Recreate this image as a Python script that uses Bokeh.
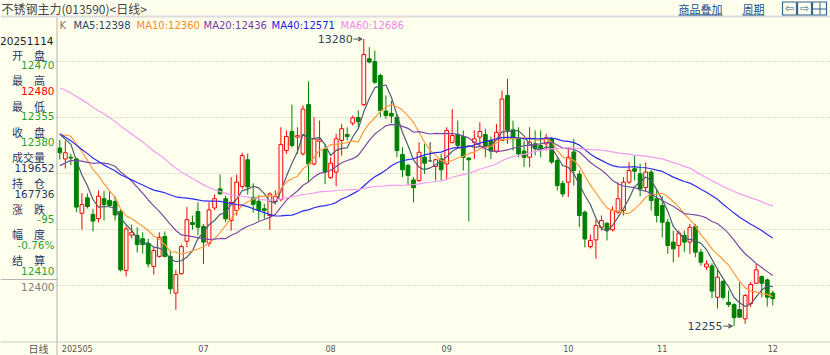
import numpy as np
from bokeh.plotting import figure
from bokeh.models import Range1d, Label, BoxAnnotation, Grid, FixedTicker, Arrow, VeeHead
from bokeh.embed import file_html
from bokeh.resources import INLINE

# ---------------- data ----------------
opens = [12891, 12852, 12858, 12852, 12658, 12713, 12654, 12639, 12710, 12704,
         12700, 12664, 12454, 12580, 12579, 12567, 12551, 12468, 12504, 12575,
         12504, 12373, 12442, 12558, 12625, 12664, 12611, 12551, 12677, 12745,
         12710, 12632, 12668, 12754, 12849, 12715, 12701, 12674, 12650, 12700,
         12707, 12882, 12950, 12930, 12870, 13046, 12834, 12915, 12886, 12785,
         12805, 12918, 12939, 12980, 13000, 13046, 13210, 13200, 13150, 13023,
         13015, 13001, 12868, 12829, 12777, 12775, 12858, 12845, 12825, 12852,
         12834, 12911, 12939, 12932, 12855, 12911, 12930, 12939, 12918, 12880,
         12918, 13079, 12956, 12924, 12880, 12858, 12906, 12900, 12906, 12924,
         12846, 12765, 12769, 12877, 12798, 12662, 12539, 12563, 12608, 12622,
         12599, 12662, 12668, 12769, 12817, 12799, 12750, 12805, 12710, 12686,
         12626, 12555, 12543, 12579, 12555, 12611, 12519, 12466, 12470, 12358,
         12414, 12340, 12332, 12314, 12281, 12335, 12408, 12432, 12420, 12373]
highs = [12920, 12918, 12871, 12856, 12730, 12729, 12674, 12739, 12738, 12739,
         12718, 12671, 12611, 12618, 12608, 12590, 12567, 12537, 12590, 12593,
         12525, 12456, 12546, 12680, 12650, 12697, 12620, 12697, 12725, 12796,
         12721, 12787, 12796, 12874, 12871, 12765, 12723, 12692, 12733, 12740,
         12965, 12954, 13046, 12965, 13043, 13129, 13001, 12989, 12906, 12858,
         12942, 12977, 12965, 13007, 13025, 13280, 13251, 13239, 13156, 13079,
         13060, 13013, 12894, 12835, 12787, 12912, 12906, 12912, 12853, 12870,
         12965, 13030, 12989, 12954, 12858, 12954, 12983, 12960, 12932, 12977,
         13096, 13138, 12989, 12965, 12918, 12965, 12954, 12954, 12942, 12930,
         12858, 12775, 12894, 12924, 12811, 12668, 12582, 12635, 12650, 12626,
         12682, 12769, 12787, 12840, 12864, 12835, 12840, 12813, 12740, 12718,
         12638, 12596, 12596, 12596, 12620, 12620, 12531, 12490, 12480, 12461,
         12420, 12382, 12337, 12412, 12370, 12412, 12477, 12436, 12425, 12382]
lows = [12850, 12818, 12829, 12662, 12599, 12675, 12593, 12626, 12632, 12680,
        12632, 12450, 12432, 12568, 12518, 12514, 12465, 12439, 12500, 12500,
        12370, 12313, 12439, 12537, 12600, 12579, 12477, 12539, 12670, 12725,
        12626, 12596, 12650, 12745, 12725, 12660, 12632, 12638, 12599, 12690,
        12700, 12870, 12893, 12870, 12864, 12770, 12829, 12858, 12763, 12781,
        12754, 12864, 12918, 12971, 12961, 13040, 13193, 13120, 13001, 12995,
        12980, 12858, 12787, 12757, 12697, 12769, 12798, 12841, 12775, 12775,
        12777, 12907, 12893, 12811, 12629, 12852, 12900, 12858, 12852, 12873,
        12916, 12906, 12882, 12858, 12823, 12823, 12864, 12858, 12882, 12834,
        12739, 12716, 12716, 12757, 12608, 12536, 12532, 12495, 12596, 12561,
        12593, 12656, 12650, 12763, 12775, 12718, 12734, 12668, 12625, 12572,
        12513, 12483, 12501, 12520, 12513, 12501, 12471, 12455, 12355, 12318,
        12350, 12323, 12255, 12285, 12263, 12323, 12406, 12358, 12325, 12329]
closes = [12874, 12874, 12855, 12680, 12689, 12682, 12630, 12719, 12689, 12686,
          12652, 12456, 12602, 12590, 12546, 12546, 12477, 12525, 12572, 12504,
          12388, 12439, 12539, 12635, 12618, 12608, 12555, 12670, 12710, 12727,
          12638, 12697, 12769, 12864, 12752, 12690, 12668, 12668, 12727, 12718,
          12904, 12932, 12900, 12935, 13030, 12834, 12924, 12922, 12805, 12837,
          12924, 12960, 12932, 12999, 12985, 13225, 13198, 13126, 13025, 13007,
          13005, 12882, 12813, 12793, 12749, 12876, 12837, 12845, 12849, 12813,
          12954, 12936, 12900, 12858, 12849, 12924, 12950, 12900, 12880, 12947,
          13066, 12954, 12924, 12870, 12858, 12912, 12888, 12890, 12927, 12841,
          12757, 12727, 12858, 12811, 12650, 12566, 12561, 12614, 12632, 12596,
          12668, 12710, 12769, 12811, 12808, 12745, 12805, 12704, 12650, 12626,
          12543, 12531, 12587, 12555, 12608, 12519, 12483, 12477, 12380, 12430,
          12358, 12332, 12285, 12287, 12364, 12404, 12456, 12408, 12358, 12353]
# closes before the first visible bar (only used for the moving averages)
prior_closes = [13380, 13420, 13450, 13400, 13430, 13470, 13440, 13410, 13460, 13480,
                13450, 13420, 13440, 13410, 13430, 13460, 13440, 13400, 13420, 13430,
                13380, 13350, 13320, 13300, 13280, 13250, 13230, 13200,
                13100, 13050, 13010, 12980, 12950, 12920, 12900, 12880, 12860,
                12750, 12700, 12720,
                12690, 12660, 12700, 12730, 12760, 12700, 12680, 12720, 12760, 12800,
                12860, 12900, 12950, 12970, 12985,
                12960, 12940, 12975, 12946]

month_labels = ["202505", "07", "08", "09", "10", "11", "12"]
month_start_idx = [0, 26, 49, 70, 92, 109, 129]
grid_prices = [12400, 12600, 12800, 13000, 13200]
axis_label_price = 12400

ma_periods = [5, 10, 20, 40, 60]
ma_legend_values = [12398, 12360, 12436, 12571, 12686]
ma_colors = ["#4A5E72", "#FF9A3C", "#7B4BA6", "#2B2BEE", "#F29CF2"]
ma_text_colors = ["#2C4366", "#FF8C1A", "#6B3FA0", "#2222DD", "#EE88EE"]

info_date = "20251114"
info_names = ["开　盘", "最　高", "最　低", "收　盘", "成交量", "持　仓", "涨　跌", "幅　度", "结　算"]
info_values = ["12470", "12480", "12355", "12380", "119652", "167736", "-95", "-0.76%", "12410"]
info_kinds = ["dn", "up", "dn", "dn", "n", "n", "dn", "dn", "dn"]

title_text = "不锈钢主力(013590)<日线>"

# ---------------- layout constants ----------------
W, H = 830, 355
BG = "#FFFFEE"
RED = "#FF0000"
GREEN = "#008000"
NAVY = "#1E3A66"
X0_PX, STEP_PX = 59.3, 5.527          # centre of first bar, bar spacing
PX_PER_200 = 56.0
Y_REF_PX = 285.0                       # pixel row of 12400 gridline

x_start = -X0_PX / STEP_PX
x_end = (W - X0_PX) / STEP_PX
y_end = axis_label_price + Y_REF_PX * 200 / PX_PER_200
y_start = axis_label_price - (H - Y_REF_PX) * 200 / PX_PER_200

p = figure(width=W, height=H, x_range=Range1d(x_start, x_end), y_range=Range1d(y_start, y_end),
           output_backend="svg", toolbar_location=None, title=None,
           x_axis_type=None, y_axis_type=None, min_border=0)
p.outline_line_color = None
p.background_fill_color = BG
p.border_fill_color = BG

p.add_layout(Grid(dimension=1, ticker=FixedTicker(ticks=grid_prices),
                  grid_line_color="#B8B8B8", grid_line_dash="1 2", grid_line_width=1))

o = np.array(opens, float); h = np.array(highs, float)
l = np.array(lows, float); c = np.array(closes, float)
n = len(c)
idx = np.arange(n)
up = c > o
dn = c < o
fl = c == o
BW = 0.68

# wicks
p.segment(x0=idx[up], y0=l[up], x1=idx[up], y1=h[up], line_color=RED, line_width=1)
p.segment(x0=idx[dn], y0=l[dn], x1=idx[dn], y1=h[dn], line_color=GREEN, line_width=1)
p.segment(x0=idx[fl], y0=l[fl], x1=idx[fl], y1=h[fl], line_color="#333333", line_width=1)
# bodies
p.vbar(x=idx[up], width=BW, top=c[up], bottom=o[up], fill_color=BG, line_color=RED, line_width=1)
p.vbar(x=idx[dn], width=BW, top=o[dn], bottom=c[dn], fill_color=GREEN, line_color=GREEN, line_width=1)
p.segment(x0=idx[fl] - BW / 2, y0=o[fl], x1=idx[fl] + BW / 2, y1=o[fl], line_color="#333333", line_width=1)

# moving averages
full = np.array(prior_closes + closes, float)
for per, col in zip(ma_periods, ma_colors):
    ma = np.convolve(full, np.ones(per) / per, mode="valid")[-n:]
    p.line(idx, ma, line_color=col, line_width=1.2)

# high / low markers
imax = int(np.argmax(h)); imin = int(np.argmin(l))
for i_, val, lab_off in [(imax, h[imax], -2.0), (imin, l[imin], -2.1)]:
    p.add_layout(Arrow(end=VeeHead(size=4, line_color="#555555", fill_color="#555555", line_width=1),
                       x_start=i_ + lab_off + 0.15, y_start=val, x_end=i_ - 0.3, y_end=val,
                       line_color="#555555", line_width=1))
    p.add_layout(Label(x=i_ + lab_off, y=val, text="%d" % val, text_align="right", text_baseline="middle",
                       text_font="DejaVu Sans", text_font_size="11px", text_color="#2C4366"))


def sy(py):
    return H - py


def box(l_, r_, t_, b_, fill=None, line=None, lw=1):
    p.add_layout(BoxAnnotation(left=l_, right=r_, top=sy(t_), bottom=sy(b_),
                               left_units="screen", right_units="screen",
                               top_units="screen", bottom_units="screen",
                               fill_color=fill, fill_alpha=1 if fill else 0,
                               line_color=line, line_alpha=1 if line else 0, line_width=lw))


def txt(s, x, y, color=NAVY, size="11px", font="DejaVu Sans", align="left", **kw):
    p.add_layout(Label(x=x, y=sy(y), x_units="screen", y_units="screen", text=s,
                       text_align=align, text_baseline="middle", text_color=color,
                       text_font=font, text_font_size=size, **kw))


# left panel cover + borders
box(0, 56.5, 17, H, fill=BG)
box(0, W, 15, 17, fill="#DCDCDC")           # title separator
box(56, 57, 17, H, fill="#B4B4B4")           # panel right border
box(0, 57, 278.5, 279.5, fill="#B4B4B4")     # panel bottom border
box(0, W, 341, 342, fill="#C8C8C8")          # date row separator

# title bar
txt(title_text, 1, 8, color="#444444", size="12px", font="Noto Sans CJK SC")
txt("商品叠加", 678, 8, color="#1F4E8C", size="11px", font="Noto Sans CJK SC")
box(678, 722, 14, 15, fill="#1F4E8C")
txt("周期", 742, 8, color="#1F4E8C", size="11px", font="Noto Sans CJK SC")
box(742, 764, 14, 15, fill="#1F4E8C")
for bx, sym in [(782, "⇦"), (797, "⇨"), (812, "")]:
    box(bx, bx + 14, 1.5, 14.5, line="#31658F", lw=1.2)
    if sym:
        txt(sym, bx + 7, 8, color="#31658F", size="11px", align="center")
box(819, 820, 2, 14, fill="#31658F")
box(812, 826, 8, 9, fill="#31658F")

# MA legend row
txt("K", 59, 25, color="#777777", size="10px")
legend_x = [73, 136, 203, 271, 340]
for per, val, col, lx in zip(ma_periods, ma_legend_values, ma_text_colors, legend_x):
    txt("MA%d:%d" % (per, val), lx, 25, color=col, size="10px")

# info panel
txt(info_date, 53, 40, color="#222222", size="10.5px", align="right")
kind_col = {"up": RED, "dn": "#2E9E2E", "n": NAVY}
for k, (nm, vv, kd) in enumerate(zip(info_names, info_values, info_kinds)):
    ylab = 54 + 25.7 * k
    txt(nm, 28, ylab, color=NAVY, size="11px", font="Noto Sans CJK SC", align="center")
    txt(vv, 54, ylab + 10.5, color=kind_col[kd], size="10.5px", align="right")

# price label under panel
txt("%d" % axis_label_price, 54, sy(0) - sy(Y_REF_PX) + Y_REF_PX + 1 - (sy(0) - sy(Y_REF_PX)), color="#808080", size="10.5px", align="right")

# date row
txt("日线", 48, 348, color="#555555", size="10px", font="Noto Sans CJK SC", align="right")
for lab, mi in zip(month_labels, month_start_idx):
    al = "left" if lab == month_labels[0] else "center"
    p.add_layout(Label(x=mi, y=sy(348), x_units="data", y_units="screen", text=lab,
                       text_align=al, text_baseline="middle", text_color="#555555",
                       text_font="DejaVu Sans Condensed", text_font_size="9px",
                       x_offset=2 if al == "left" else 0))

open("out.html", "w").write(file_html(p, INLINE))
